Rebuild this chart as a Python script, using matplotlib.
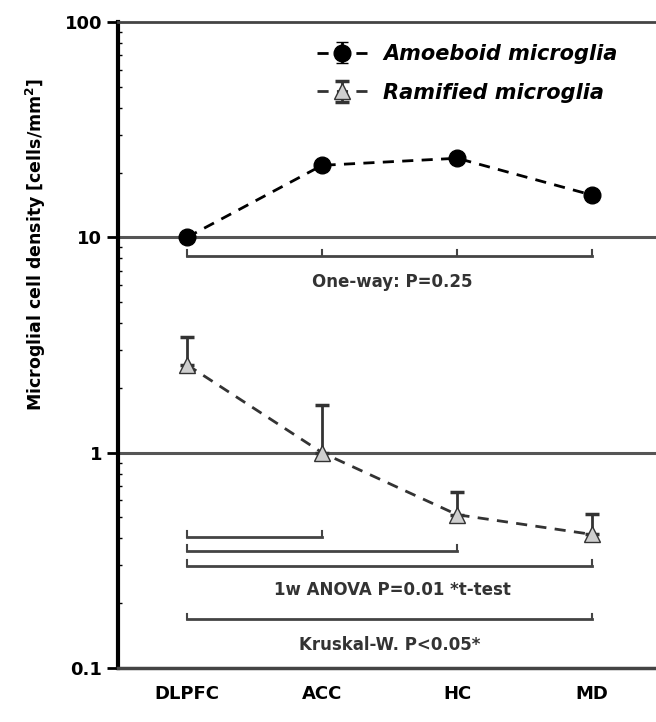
import numpy as np
import matplotlib.pyplot as plt
from matplotlib.ticker import FixedLocator, LogLocator, NullFormatter

regions = ['DLPFC', 'ACC', 'HC', 'MD']
amoeboid = [10.0, 21.6, 23.3, 15.7]
amoeboid_err = [0.4, 1.0, 1.2, 0.7]
ramified = [2.56, 1.0, 0.515, 0.417]
ramified_err = [0.9, 0.67, 0.14, 0.10]

# comparison brackets: (start, end, y)
brackets_top = [(0, 3, 8.2)]
label_top = 'One-way: P=0.25'
brackets_low = [(0, 1, 0.408), (0, 2, 0.351), (0, 3, 0.299)]
label_low = '1w ANOVA P=0.01 *t-test'
brackets_kw = [(0, 3, 0.168)]
label_kw = 'Kruskal-W. P<0.05*'

plt.rcParams['font.family'] = ['DejaVu Sans']
plt.rcParams['font.weight'] = 'bold'

fig = plt.figure(figsize=(6.56, 7.22), dpi=100)
ax = fig.add_axes([0.18, 0.0748, 0.83, 0.8947])

x = np.arange(len(regions))
ax.errorbar(x, amoeboid, yerr=[np.zeros(4), amoeboid_err], fmt='o', color='black',
            ms=12, capsize=4, lw=2, ls=(0, (4, 3)), label='Amoeboid microglia')
ax.errorbar(x, ramified, yerr=[np.zeros(4), ramified_err], fmt='^', color='#333333',
            mfc='#cfcfcf', mec='#333333', ms=11, capsize=5, lw=2, capthick=2.5,
            ls=(0, (4, 3)), label='Ramified microglia')

ax.axhline(10, color='#555555', lw=2.2, zorder=0)
ax.axhline(1, color='#555555', lw=2.2, zorder=0)

def draw_brackets(items, tick_at_all):
    for a, b, y in items:
        ax.plot([a, b], [y, y], color='#444444', lw=2)
        pts = range(a, b + 1) if tick_at_all else [a, b]
        for p in pts:
            ax.plot([p, p], [y, y * 1.06], color='#444444', lw=1.5)

draw_brackets(brackets_top, True)
draw_brackets(brackets_low, False)
draw_brackets(brackets_kw, False)

ax.text(1.52, 6.18, label_top, ha='center', va='center', fontsize=12, fontweight='bold', color='#333333')
ax.text(1.52, 0.231, label_low, ha='center', va='center', fontsize=12, fontweight='bold', color='#333333')
ax.text(1.50, 0.1285, label_kw, ha='center', va='center', fontsize=12, fontweight='bold', color='#333333')

ax.set_yscale('log')
ax.set_ylim(0.1, 100)
ax.set_xlim(-0.51, 3.52)
ax.yaxis.set_major_locator(FixedLocator([0.1, 1, 10, 100]))
ax.set_yticklabels(['0.1', '1', '10', '100'], fontsize=13, fontweight='bold')
ax.yaxis.set_minor_locator(LogLocator(subs=np.arange(2, 10)))
ax.yaxis.set_minor_formatter(NullFormatter())
ax.tick_params(axis='y', which='major', length=8, width=2, direction='out')
ax.tick_params(axis='y', which='minor', length=3, width=1, direction='in')

ax.set_xticks(x)
ax.set_xticklabels(regions, fontsize=13, fontweight='bold')
ax.tick_params(axis='x', length=0, pad=12)

ax.spines['left'].set_linewidth(3)
ax.spines['bottom'].set_linewidth(2.5)
ax.spines['top'].set_linewidth(2)
ax.spines['bottom'].set_color('#444444')
ax.spines['top'].set_color('#444444')
ax.spines['right'].set_visible(False)

ax.set_ylabel('Microglial cell density [cells/mm$^2$]', fontsize=12.5, fontweight='bold')
ax.yaxis.set_label_coords(-0.128, 0.655)

leg = ax.legend(loc='upper left', bbox_to_anchor=(0.33, 0.995), frameon=False,
                prop={'size': 15, 'weight': 'bold', 'style': 'italic'},
                handlelength=2.4, handletextpad=0.8, labelspacing=0.9)

fig.savefig('out.png', dpi=100)
